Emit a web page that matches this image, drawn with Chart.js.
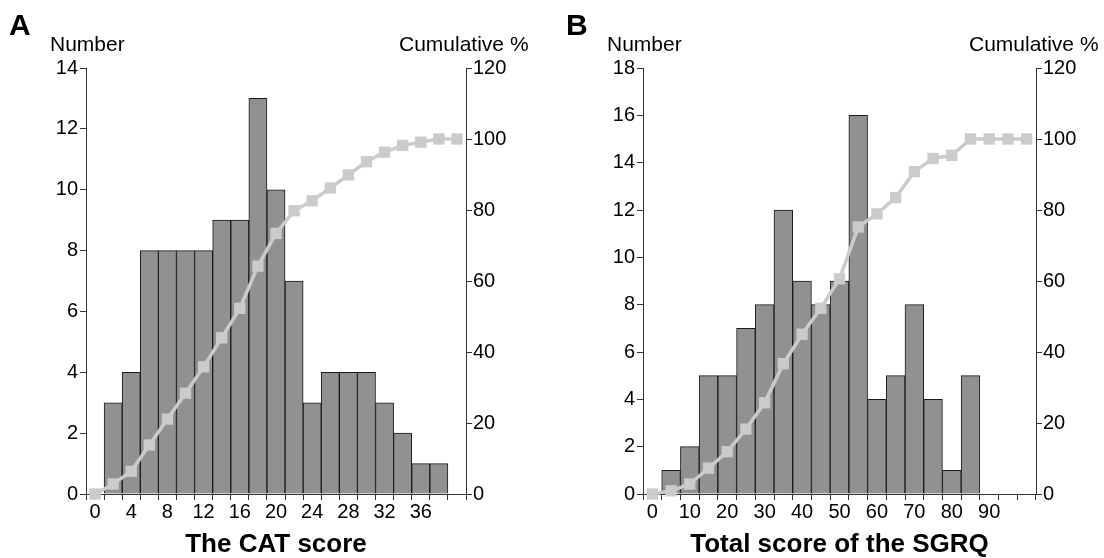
<!DOCTYPE html>
<html><head><meta charset="utf-8">
<script src="https://cdn.jsdelivr.net/npm/chart.js@4"></script>
<style>
html,body{margin:0;padding:0;background:#fff;}
#wrap{position:relative;width:1104px;height:558px;overflow:hidden;font-family:'Liberation Sans',Arial,sans-serif;color:#000;}
canvas{position:absolute;top:0;}
.t{position:absolute;white-space:nowrap;line-height:1;}
</style></head><body>
<div id="wrap">
<canvas id="cA" width="552" height="558" style="left:0"></canvas>
<canvas id="cB" width="552" height="558" style="left:552px"></canvas>
<div class="t" style="left:9px;top:10px;font-size:30px;font-weight:bold">A</div>
<div class="t" style="left:50px;top:33px;font-size:21px">Number</div>
<div class="t" style="left:399px;top:33px;font-size:21px">Cumulative %</div>
<div class="t" style="left:566px;top:10px;font-size:30px;font-weight:bold">B</div>
<div class="t" style="left:607px;top:33px;font-size:21px">Number</div>
<div class="t" style="left:969px;top:33px;font-size:21px">Cumulative %</div>
</div>
<script>
// Panel A: CAT score
const catBins = ['0','2','4','6','8','10','12','14','16','18','20','22','24','26','28','30','32','34','36','38','40'];
const catCounts = [0,3,4,8,8,8,8,9,9,13,10,7,3,4,4,4,3,2,1,1,0];
const catCumulative = [0,2.8,6.4,13.8,21.1,28.4,35.8,44.0,52.3,64.2,73.4,79.8,82.6,86.2,89.9,93.6,96.3,98.2,99.1,100,100];
const catTickLabels = ['0','4','8','12','16','20','24','28','32','36'];

// Panel B: SGRQ total score
const sgrqBins = ['0','5','10','15','20','25','30','35','40','45','50','55','60','65','70','75','80','85','90','95','100'];
const sgrqCounts = [0,1,2,5,5,7,8,12,9,8,9,16,4,5,8,4,1,5,0,0,0];
const sgrqCumulative = [0,0.9,2.8,7.3,11.9,18.3,25.7,36.7,45.0,52.3,60.6,75.2,78.9,83.5,90.8,94.5,95.4,100,100,100,100];
const sgrqTickLabels = ['0','10','20','30','40','50','60','70','80','90'];

const FAM = "'Liberation Sans', Arial, sans-serif";
const AX = '#333333';

function makeChart(id, bins, counts, cum, tickLabels, yMax, title, leftW, rightW) {
  return new Chart(document.getElementById(id), {
    data: {
      labels: bins,
      datasets: [
        { type: 'line', data: cum, yAxisID: 'y1', order: 0, clip: false,
          borderColor: '#cbcbcb', backgroundColor: '#cbcbcb', borderWidth: 3.5,
          pointStyle: 'rect', pointRadius: 8, pointBorderWidth: 0,
          pointBackgroundColor: '#cbcbcb', tension: 0 },
        { type: 'bar', data: counts, yAxisID: 'y', order: 1,
          backgroundColor: '#919191', borderColor: '#1a1a1a', borderWidth: 1,
          barPercentage: 1, categoryPercentage: 1 }
      ]
    },
    options: {
      responsive: false, animation: false, devicePixelRatio: 1,
      layout: { padding: { top: 68, left: 0, right: 0, bottom: 0 } },
      plugins: { legend: { display: false }, tooltip: { enabled: false } },
      scales: {
        x: {
          type: 'category', offset: true,
          grid: { display: true, drawOnChartArea: false, drawTicks: true, tickLength: 6, color: AX, offset: true },
          border: { display: true, color: AX, width: 1 },
          ticks: { autoSkip: false, maxRotation: 0, minRotation: 0, padding: 0, color: '#000',
                   font: { size: 20, family: FAM },
                   callback: function(v) { const l = this.getLabelForValue(v); return tickLabels.includes(l) ? l : ''; } },
          title: { display: true, text: title, color: '#000',
                   font: { size: 26, weight: 'bold', family: FAM, lineHeight: 1 },
                   padding: { top: 0, bottom: 0 } },
          afterFit: s => { s.height = 64; }
        },
        y: {
          position: 'left', min: 0, max: yMax,
          grid: { drawOnChartArea: false, drawTicks: true, tickLength: 6, color: AX },
          border: { display: true, color: AX, width: 1 },
          ticks: { stepSize: 2, padding: 2, color: '#000', font: { size: 20, family: FAM } },
          afterFit: s => { s.width = leftW; }
        },
        y1: {
          position: 'right', min: 0, max: 120,
          grid: { drawOnChartArea: false, drawTicks: true, tickLength: 6, color: AX },
          border: { display: true, color: AX, width: 1 },
          ticks: { stepSize: 20, padding: 1, color: '#000', font: { size: 20, family: FAM } },
          afterFit: s => { s.width = rightW; }
        }
      }
    }
  });
}

makeChart('cA', catBins, catCounts, catCumulative, catTickLabels, 14, 'The CAT score', 86, 86);
makeChart('cB', sgrqBins, sgrqCounts, sgrqCumulative, sgrqTickLabels, 18, 'Total score of the SGRQ', 91, 68);
</script>
</body></html>
